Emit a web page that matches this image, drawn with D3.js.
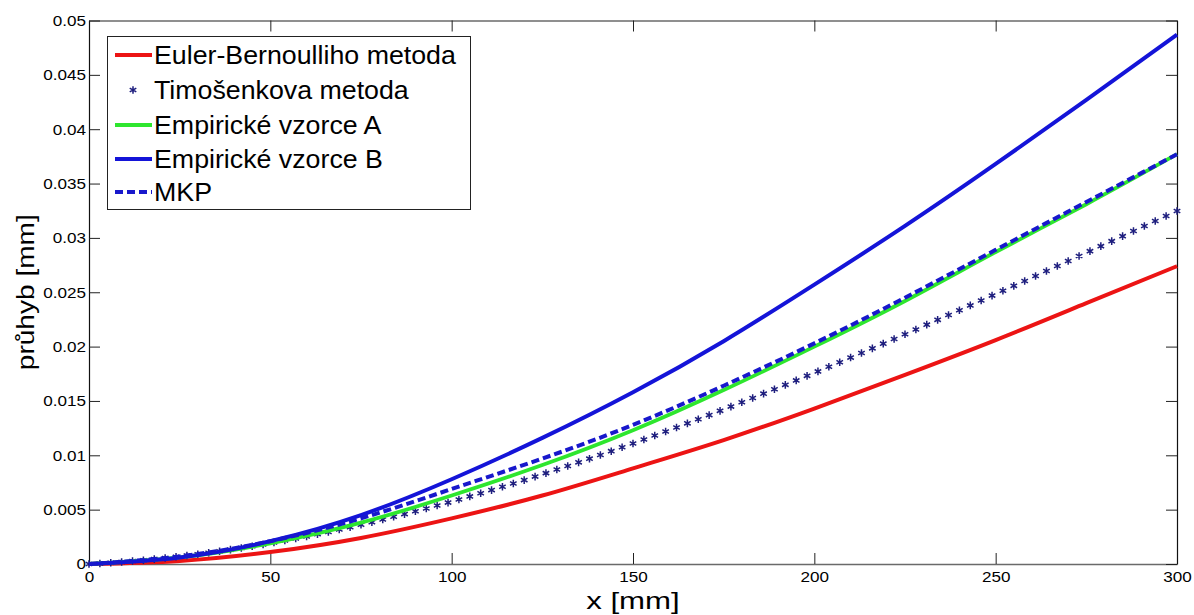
<!DOCTYPE html>
<html lang="cs">

<head>
  <meta charset="UTF-8">
  <title>Průhyb nosníku</title>
  <script src="https://cdnjs.cloudflare.com/ajax/libs/d3/7.8.5/d3.min.js"></script>
  <style>
    body { margin: 0; background: #fff; }
    svg { display: block; font-family: "Liberation Sans", Arial, sans-serif; }
  </style>
</head>

<body>
  <div id="chart"></div>
  <script>
// sample points of the smooth curves [mm]
var xValues = [0, 25, 50, 75, 100, 125, 150, 175, 200, 225, 250, 275, 300];

var eulerValues = [0, 0.00028, 0.0011, 0.0024, 0.0042, 0.0063, 0.0088, 0.0114, 0.0143, 0.0174, 0.0206, 0.0240, 0.0274];
var empiricAValues = [0, 0.0006, 0.0019, 0.0038, 0.0063, 0.0091, 0.0123, 0.0160, 0.0200, 0.0242, 0.0287, 0.0331, 0.0377];
var empiricBValues = [0, 0.0006, 0.0021, 0.0045, 0.0078, 0.0116, 0.0158, 0.0205, 0.0257, 0.0311, 0.0368, 0.0427, 0.0487];
var mkpValues = [0, 0.0007, 0.0021, 0.0042, 0.0069, 0.0097, 0.0128, 0.0164, 0.0203, 0.0245, 0.0289, 0.0333, 0.0377];

// Timoshenko points (star markers), every 3 mm
var timoX = [0, 3, 6, 9, 12, 15, 18, 21, 24, 27, 30, 33, 36, 39, 42, 45, 48, 51, 54, 57,
  60, 63, 66, 69, 72, 75, 78, 81, 84, 87, 90, 93, 96, 99, 102, 105, 108, 111, 114, 117,
  120, 123, 126, 129, 132, 135, 138, 141, 144, 147, 150, 153, 156, 159, 162, 165, 168, 171, 174, 177,
  180, 183, 186, 189, 192, 195, 198, 201, 204, 207, 210, 213, 216, 219, 222, 225, 228, 231, 234, 237,
  240, 243, 246, 249, 252, 255, 258, 261, 264, 267, 270, 273, 276, 279, 282, 285, 288, 291, 294, 297, 300];
var timoValues = [0, 0.00005, 0.00012, 0.00019, 0.00027, 0.00035, 0.00045, 0.00055, 0.00066, 0.00078,
  0.00090, 0.00103, 0.00117, 0.00132, 0.00147, 0.00164, 0.00180, 0.00198, 0.00216, 0.00235,
  0.00254, 0.00275, 0.00295, 0.00317, 0.00339, 0.00362, 0.00385, 0.00409, 0.00434, 0.00459,
  0.00485, 0.00511, 0.00538, 0.00565, 0.00593, 0.00622, 0.00651, 0.00680, 0.00710, 0.00741,
  0.00772, 0.00804, 0.00836, 0.00869, 0.00902, 0.00935, 0.00969, 0.01003, 0.01038, 0.01074,
  0.01109, 0.01145, 0.01182, 0.01219, 0.01256, 0.01294, 0.01332, 0.01370, 0.01409, 0.01448,
  0.01488, 0.01527, 0.01567, 0.01608, 0.01648, 0.01689, 0.01731, 0.01772, 0.01814, 0.01856,
  0.01899, 0.01941, 0.01984, 0.02027, 0.02070, 0.02114, 0.02158, 0.02202, 0.02246, 0.02290,
  0.02334, 0.02379, 0.02424, 0.02469, 0.02514, 0.02559, 0.02604, 0.02650, 0.02695, 0.02741,
  0.02787, 0.02833, 0.02878, 0.02924, 0.02970, 0.03016, 0.03063, 0.03109, 0.03155, 0.03201, 0.03247];

var xTicks = [0, 50, 100, 150, 200, 250, 300];
var yTicks = [0, 0.005, 0.01, 0.015, 0.02, 0.025, 0.03, 0.035, 0.04, 0.045, 0.05];

var legendLabels = ["Euler-Bernoulliho metoda", "Timošenkova metoda", "Empirické vzorce A", "Empirické vzorce B", "MKP"];

var svgWidth = 1194;
var svgHeight = 615;
var plot = { left: 89, right: 1177, top: 20.5, bottom: 564 };

var svg = d3.select("#chart")
  .append("svg")
  .attr("width", svgWidth)
  .attr("height", svgHeight);

var x = d3.scaleLinear().domain([0, 300]).range([plot.left, plot.right]);
var y = d3.scaleLinear().domain([0, 0.05]).range([plot.bottom, plot.top]);

// MATLAB-ish text is a bit wider than plain Arial in the picture
function stretchText(sel, factor) {
  sel.each(function() {
    var w = this.getComputedTextLength();
    d3.select(this)
      .attr("textLength", w * factor)
      .attr("lengthAdjust", "spacingAndGlyphs");
  });
}

function yFormat(d) {
  return d === 0 ? "0" : String(+d.toFixed(3));
}

// axes, ticks pointing inwards
var bottomAxis = svg.append("g")
  .attr("transform", `translate(0, ${plot.bottom})`)
  .call(d3.axisBottom(x).tickValues(xTicks).tickSize(-11).tickSizeOuter(0).tickPadding(7));

var topAxis = svg.append("g")
  .attr("transform", `translate(0, ${plot.top})`)
  .call(d3.axisTop(x).tickValues(xTicks).tickSize(-11).tickSizeOuter(0).tickFormat(""));

var leftAxis = svg.append("g")
  .attr("transform", `translate(${plot.left}, 0)`)
  .call(d3.axisLeft(y).tickValues(yTicks).tickSize(-11).tickSizeOuter(0).tickPadding(3).tickFormat(yFormat));

var rightAxis = svg.append("g")
  .attr("transform", `translate(${plot.right}, 0)`)
  .call(d3.axisRight(y).tickValues(yTicks).tickSize(-11).tickSizeOuter(0).tickFormat(""));

[bottomAxis, topAxis].forEach(function(a) {
  a.select(".domain").attr("stroke", "#6a6a6a").attr("stroke-width", 1.6);
});
[leftAxis, rightAxis].forEach(function(a) {
  a.select(".domain").attr("stroke", "#111").attr("stroke-width", 1.2);
});
svg.selectAll(".tick line").attr("stroke", "#222");

svg.selectAll(".tick text")
  .attr("fill", "#000")
  .style("font-size", "15px")
  .style("font-family", "'Liberation Sans', Arial, sans-serif");
stretchText(svg.selectAll(".tick text"), 1.14);

// lines
var lineGen = d3.line()
  .x(d => x(d[0]))
  .y(d => y(d[1]))
  .curve(d3.curveNatural);

function pairs(values) {
  return xValues.map((v, i) => [v, values[i]]);
}

var chartGroup = svg.append("g");

chartGroup.append("path")
  .datum(pairs(eulerValues))
  .attr("d", lineGen)
  .attr("fill", "none")
  .attr("stroke", "#ec1414")
  .attr("stroke-width", 4);

// Timoshenko stars
var star = d3.symbol().type(d3.symbolAsterisk).size(40);
chartGroup.selectAll(".timo")
  .data(timoX.map((v, i) => [v, timoValues[i]]))
  .enter()
  .append("path")
  .attr("class", "timo")
  .attr("d", star)
  .attr("transform", d => `translate(${x(d[0])}, ${y(d[1])})`)
  .attr("fill", "none")
  .attr("stroke", "#1e1e7e")
  .attr("stroke-width", 1.5);

chartGroup.append("path")
  .datum(pairs(empiricAValues))
  .attr("d", lineGen)
  .attr("fill", "none")
  .attr("stroke", "#2ee62e")
  .attr("stroke-width", 3.8);

chartGroup.append("path")
  .datum(pairs(empiricBValues))
  .attr("d", lineGen)
  .attr("fill", "none")
  .attr("stroke", "#1414d8")
  .attr("stroke-width", 4);

chartGroup.append("path")
  .datum(pairs(mkpValues))
  .attr("d", lineGen)
  .attr("fill", "none")
  .attr("stroke", "#1818cc")
  .attr("stroke-width", 4)
  .attr("stroke-dasharray", "8,4");

// axis labels
var xLabel = svg.append("text")
  .attr("x", (plot.left + plot.right) / 2)
  .attr("y", 609)
  .attr("text-anchor", "middle")
  .style("font-size", "24px")
  .text("x [mm]");
stretchText(xLabel, 1.3);

var yLabel = svg.append("text")
  .attr("transform", `translate(34, ${(plot.top + plot.bottom) / 2}) rotate(-90)`)
  .attr("text-anchor", "middle")
  .style("font-size", "23px")
  .text("průhyb [mm]");
stretchText(yLabel, 1.22);

// legend
var legend = svg.append("g");
legend.append("rect")
  .attr("x", 107.5)
  .attr("y", 36.5)
  .attr("width", 363)
  .attr("height", 173)
  .attr("fill", "#fff")
  .attr("stroke", "#222")
  .attr("stroke-width", 1);

var legendRows = [55, 90, 125, 159, 192];
var legendStyles = [
  { stroke: "#ec1414", dash: null },
  { stroke: null, dash: null },
  { stroke: "#2ee62e", dash: null },
  { stroke: "#1414d8", dash: null },
  { stroke: "#1818cc", dash: "8,4" }
];

legendLabels.forEach(function(label, i) {
  var ly = legendRows[i];
  var st = legendStyles[i];
  if (st.stroke) {
    legend.append("line")
      .attr("x1", 115).attr("x2", 152)
      .attr("y1", ly).attr("y2", ly)
      .attr("stroke", st.stroke)
      .attr("stroke-width", 4)
      .attr("stroke-dasharray", st.dash);
  } else {
    legend.append("path")
      .attr("d", star)
      .attr("transform", `translate(133, ${ly})`)
      .attr("fill", "none")
      .attr("stroke", "#1e1e7e")
      .attr("stroke-width", 1.5);
  }
  var t = legend.append("text")
    .attr("x", 154)
    .attr("y", ly)
    .attr("dy", "0.36em")
    .style("font-size", "25px")
    .text(label);
  stretchText(t, 1.07);
});
  </script>
</body>

</html>
